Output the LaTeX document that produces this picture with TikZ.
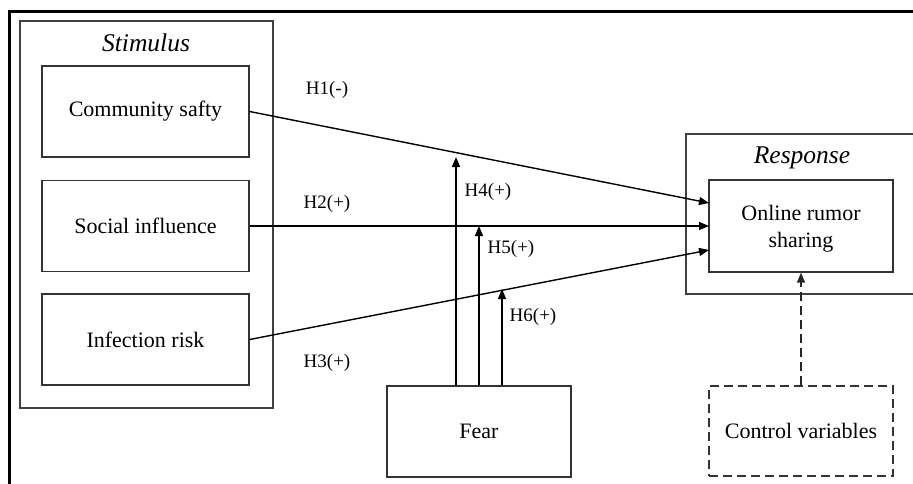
\documentclass[tikz,border=0pt]{standalone}
\usepackage{fontspec}
\setmainfont{Liberation Serif}
\usetikzlibrary{arrows.meta}
\usetikzlibrary{calc}
\usepackage{xcolor}

\begin{document}
\begin{tikzpicture}[x=1pt, y=-1pt]
        % ================= 样式定义 =================
        \tikzset{
            % 变量框 (深灰边)
            varbox/.style={rectangle, draw=black!80, line width=1.3pt, fill=white, minimum width=207pt, minimum height=91pt, inner sep=0pt, font=\fontsize{22}{26}\selectfont, align=center},
            % 分组外框
            groupbox/.style={draw=black!75, line width=1.3pt},
            % 分组标题 (斜体)
            grouptitle/.style={font=\fontsize{25.5}{30}\selectfont\itshape, inner sep=0pt},
            % 假设标注
            hlabel/.style={font=\fontsize{19}{22}\selectfont, inner sep=0pt},
            % 实线箭头
            path_arrow/.style={line width=1.4pt, black, -{Triangle[length=10pt, width=8pt]}},
            % 虚线箭头
            dash_arrow/.style={line width=1.4pt, black!85, dash pattern=on 9pt off 5pt, -{Triangle[length=10pt, width=8pt]}}
        }

        \useasboundingbox (0,0) rectangle (913,483);
        \clip (0,0) rectangle (913,483);

        % ================= 外框 (只见左边和上边) =================
        \draw[line width=3pt, black] (9,490) -- (9,11) -- (920,11);

        % ================= 分组外框 =================
        \draw[groupbox] (20,21) rectangle (273,408);
        \node[grouptitle] (stim_t) at (146,43) {Stimulus};

        \draw[groupbox] (686,134) rectangle (920,294);
        \node[grouptitle] (resp_t) at (802,158) {Response};

        % ================= 变量节点 =================
        \node[varbox] (safety) at (145.5,111.5) {Community safty};
        \node[varbox] (social) at (145.5,226) {Social influence};
        \node[varbox] (infect) at (145.5,339.5) {Infection risk};

        \node[varbox, minimum width=184pt, minimum height=92pt, text depth=0pt] (rumor) at (801,226) {Online rumor\\[1pt]sharing};
        \node[varbox, minimum width=184pt] (fear) at (479,431.5) {Fear};
        \node[varbox, minimum width=184pt, minimum height=90pt, dashed, dash pattern=on 9pt off 5pt] (control) at (801,431) {Control variables};

        % ================= 主效应箭头 =================
        \coordinate (r1) at (709,203);
        \coordinate (r2) at (709,226);
        \coordinate (r3) at (709,250);

        \draw[path_arrow] (safety.east) -- (r1);
        \draw[path_arrow] (social.east) -- (r2);
        \draw[path_arrow] (infect.east) -- (r3);

        % ================= 调节箭头 (Fear 向上) =================
        \coordinate (m4) at (456,157);
        \coordinate (m5) at (479,226);
        \coordinate (m6) at (502,289);

        \draw[path_arrow] (fear.north -| m4) -- (m4);
        \draw[path_arrow] (fear.north -| m5) -- (m5);
        \draw[path_arrow] (fear.north -| m6) -- (m6);

        % 控制变量 (虚线)
        \draw[dash_arrow] (control.north) -- (rumor.south);

        % ================= 假设标注 =================
        \node[hlabel] (h1) at (327,90) {H1(-)};
        \node[hlabel] (h2) at (327,204) {H2(+)};
        \node[hlabel] (h3) at (327,363) {H3(+)};
        \node[hlabel] (h4) at (488,192) {H4(+)};
        \node[hlabel] (h5) at (511,249) {H5(+)};
        \node[hlabel] (h6) at (533,317) {H6(+)};

    \end{tikzpicture}
\end{document}
